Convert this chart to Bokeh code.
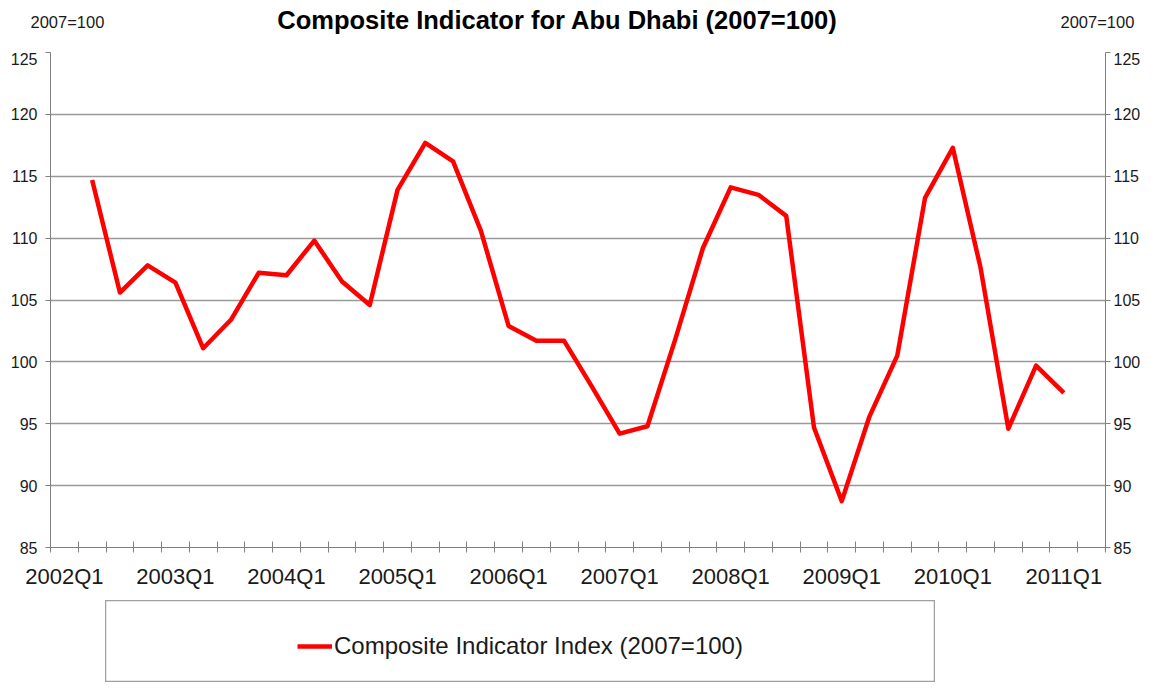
import math
from bokeh.plotting import figure
from bokeh.models import (FixedTicker, LinearAxis, Range1d, Label, Legend,
                          LegendItem, Spacer, ColumnDataSource, Plot)
from bokeh.layouts import column, row
from bokeh.embed import file_html
from bokeh.resources import INLINE

NaN = float("nan")

quarters = [
    "2002Q1", "2002Q2", "2002Q3", "2002Q4",
    "2003Q1", "2003Q2", "2003Q3", "2003Q4",
    "2004Q1", "2004Q2", "2004Q3", "2004Q4",
    "2005Q1", "2005Q2", "2005Q3", "2005Q4",
    "2006Q1", "2006Q2", "2006Q3", "2006Q4",
    "2007Q1", "2007Q2", "2007Q3", "2007Q4",
    "2008Q1", "2008Q2", "2008Q3", "2008Q4",
    "2009Q1", "2009Q2", "2009Q3", "2009Q4",
    "2010Q1", "2010Q2", "2010Q3", "2010Q4",
    "2011Q1", "2011Q2",
]

composite_index = [
    NaN, 114.7, 105.6, 107.8,
    106.4, 101.1, 103.4, 107.2,
    107.0, 109.8, 106.5, 104.6,
    113.9, 117.7, 116.2, 110.6,
    102.9, 101.7, 101.7, 98.0,
    94.2, 94.8, 101.8, 109.2,
    114.1, 113.5, 111.8, 94.7,
    88.75, 95.6, 100.5, 113.25,
    117.3, 107.6, 94.6, 99.7,
    97.5, NaN,
]

y_ticks = [85, 90, 95, 100, 105, 110, 115, 120, 125]
series_name = "Composite Indicator Index (2007=100)"
title_text = "Composite Indicator for Abu Dhabi (2007=100)"
unit_text = "2007=100"

idx = list(range(len(quarters)))
label_idx = [i for i, q in enumerate(quarters) if q.endswith("Q1")]
source = ColumnDataSource(data=dict(x=idx, y=composite_index, q=quarters))

FONT = "Liberation Sans"
W = 1147
FRAME_L, FRAME_R = 50, 1105

# ---- header (title + unit labels) ----
can_unalign = "frame_align" in Plot.properties()
hx = Range1d(0, W) if can_unalign else Range1d(FRAME_L, FRAME_R)
hdr = figure(width=W, height=52, x_range=hx, y_range=Range1d(0, 52),
             output_backend="svg", toolbar_location=None,
             x_axis_location=None, y_axis_location=None, min_border=0)
if can_unalign:
    hdr.frame_align = False
hdr.grid.visible = False
hdr.outline_line_color = None
hdr.add_layout(Label(x=557, y=33, text=title_text, text_align="center",
                     text_baseline="middle", text_font=FONT,
                     text_font_style="bold", text_font_size="25.5px",
                     text_color="black"))
hdr.add_layout(Label(x=30, y=31, text=unit_text, text_align="left",
                     text_baseline="middle", text_font=FONT,
                     text_font_size="16.5px", text_color="#1a1a1a"))
hdr.add_layout(Label(x=1060, y=31, text=unit_text, text_align="left",
                     text_baseline="middle", text_font=FONT,
                     text_font_size="16.5px", text_color="#1a1a1a"))

# ---- main chart ----
p = figure(width=W, height=548,
           x_range=Range1d(-0.5, len(quarters) - 0.5),
           y_range=Range1d(85, 125),
           output_backend="svg", toolbar_location=None,
           min_border_left=FRAME_L, min_border_right=W - FRAME_R,
           min_border_top=0, min_border_bottom=53)
p.outline_line_color = None

xt = FixedTicker(ticks=label_idx,
                 minor_ticks=[i - 0.5 for i in range(len(quarters) + 1)])
xa = p.xaxis[0]
xa.ticker = xt
xa.major_label_overrides = {i: quarters[i] for i in label_idx}
xa.major_tick_line_color = None
xa.major_tick_out = 5
xa.major_tick_in = 0
xa.minor_tick_line_color = "#808080"
xa.minor_tick_in = 6
xa.minor_tick_out = 5
xa.axis_line_color = "#808080"
xa.major_label_text_font = FONT
xa.major_label_text_font_size = "22px"
xa.major_label_text_color = "#1a1a1a"
xa.major_label_standoff = 11

ya = p.yaxis[0]
ya.ticker = FixedTicker(ticks=y_ticks)
ya.minor_tick_line_color = None
ya.major_tick_in = 0
ya.major_tick_out = 5
ya.major_tick_line_color = "#808080"
ya.axis_line_color = "#808080"
ya.major_label_text_font = FONT
ya.major_label_text_font_size = "16px"
ya.major_label_text_color = "#1a1a1a"
ya.major_label_standoff = 8

ra = LinearAxis(ticker=FixedTicker(ticks=y_ticks))
ra.minor_tick_line_color = None
ra.major_tick_in = 0
ra.major_tick_out = 5
ra.major_tick_line_color = "#808080"
ra.axis_line_color = "#808080"
ra.major_label_text_font = FONT
ra.major_label_text_font_size = "16px"
ra.major_label_text_color = "#1a1a1a"
ra.major_label_standoff = 3
p.add_layout(ra, "right")

p.xgrid.visible = False
p.ygrid.ticker = FixedTicker(ticks=y_ticks)
p.ygrid.grid_line_color = "#999999"
p.ygrid.grid_line_width = 1.5

p.line(x="x", y="y", source=source, line_color="#ff0000", line_width=4.5,
       line_join="round")

# ---- legend box ----
lf = figure(width=830, height=82, x_range=Range1d(0, 1), y_range=Range1d(0, 1),
            output_backend="svg", toolbar_location=None,
            x_axis_location=None, y_axis_location=None, min_border=0)
lf.grid.visible = False
lf.outline_line_color = "#a0a0a0"
lf.outline_line_width = 1.5
# renderer only used for the legend swatch; its points lie outside the view
r = lf.line(x=[-2, -1], y=[-2, -1], line_color="#ff0000", line_width=4.5)
leg = Legend(items=[LegendItem(label=series_name, renderers=[r])],
             location=(192, 22), padding=0, margin=0,
             border_line_color=None, background_fill_alpha=0,
             glyph_width=35, glyph_height=26, label_height=26,
             label_standoff=2, label_text_font=FONT,
             label_text_font_size="24px", label_text_color="#1a1a1a")
lf.add_layout(leg, "center")

layout = column(hdr, p, row(Spacer(width=105, height=82), lf))

open("out.html", "w").write(file_html(layout, INLINE))
